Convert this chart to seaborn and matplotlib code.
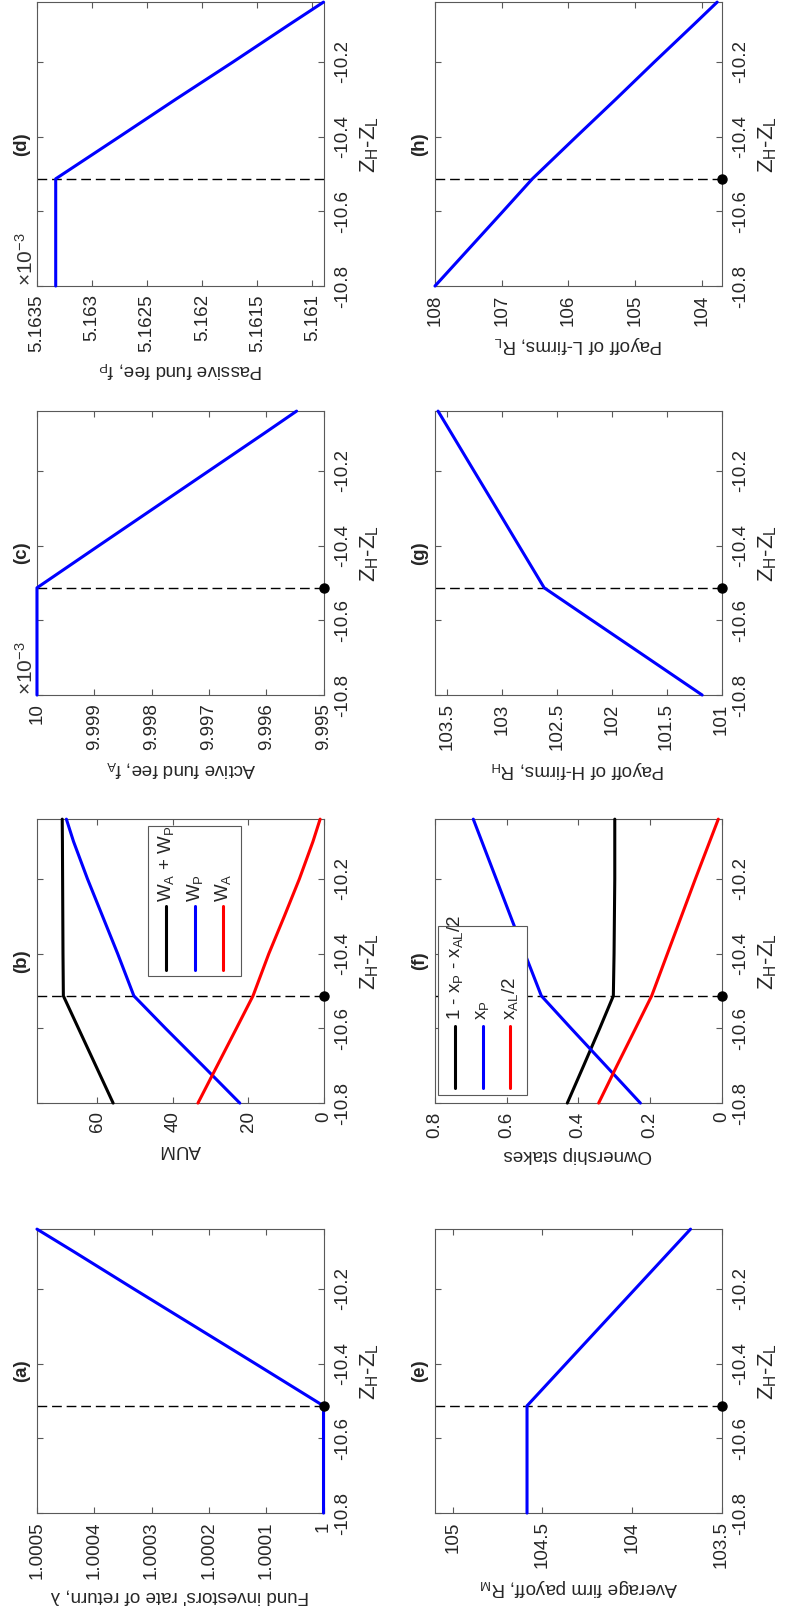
import matplotlib
matplotlib.use('Agg')
import matplotlib.pyplot as plt
import seaborn as sns
from matplotlib.patches import Rectangle

z_gap = [-10.8, -10.7, -10.6, -10.513, -10.4, -10.3, -10.2, -10.1, -10.04]
z_star = -10.513
z_ticks = [-10.8, -10.6, -10.4, -10.2]
z_ticklabels = ['-10.8', '-10.6', '-10.4', '-10.2']

# (a) fund investors' rate of return
lam = [1.0, 1.0, 1.0, 1.0, 1.000119, 1.000225, 1.000331, 1.000436, 1.0005]
# (b) assets under management
aum_total = [55.8, 60.4, 65.0, 69.0, 69.1, 69.15, 69.2, 69.25, 69.3]
aum_passive = [22.2, 32.0, 41.9, 50.3, 54.6, 58.6, 62.6, 66.3, 68.2]
aum_active = [33.3, 28.2, 23.1, 18.7, 14.5, 10.4, 6.4, 2.8, 0.9]
# (c) active fund fee, (d) passive fund fee
fee_active = [0.01, 0.01, 0.01, 0.01, 0.00999892, 0.00999796, 0.00999700, 0.00999604, 0.00999547]
fee_passive = [0.00516333, 0.00516333, 0.00516333, 0.00516333, 0.00516275,
               0.00516224, 0.00516172, 0.00516121, 0.00516090]
# (e) average firm payoff
payoff_avg = [104.586, 104.586, 104.586, 104.586, 104.368, 104.175, 103.982, 103.789, 103.673]
# (f) ownership stakes
stake_rest = [0.4305, 0.385, 0.340, 0.302, 0.300, 0.299, 0.298, 0.298, 0.298]
stake_passive = [0.2265, 0.323, 0.420, 0.503, 0.549, 0.589, 0.629, 0.669, 0.693]
stake_active = [0.343, 0.292, 0.240, 0.195, 0.151, 0.112, 0.073, 0.033, 0.009]
# (g) H-firms, (h) L-firms
payoff_h = [101.176, 101.677, 102.179, 102.615, 102.846, 103.050, 103.255, 103.459, 103.582]
payoff_l = [108.0, 107.49, 106.98, 106.54, 105.88, 105.29, 104.71, 104.12, 103.77]

sns.set_style("ticks")
plt.rcParams['font.family'] = ['Liberation Sans', 'DejaVu Sans']
plt.rcParams['mathtext.default'] = 'regular'
plt.rcParams['axes.unicode_minus'] = False

FS = 13.5
fig = plt.figure(figsize=(7.9, 16.16), dpi=100)

col_left = [0.0468, 0.5506]
row_bottom = [0.8230, 0.5699, 0.3174, 0.0637]
panel_w, panel_h = 0.3627, 0.1757


def draw_panel(ax, series, lims, ticks, ticklabels, label, tag, dot=True, scaled=False):
    ax.axhline(z_star, color='k', lw=1, dashes=(7, 3.5), zorder=2)
    for vals, color in series:
        sns.lineplot(x=vals, y=z_gap, sort=False, estimator=None, color=color,
                     lw=2.2, ax=ax, clip_on=False, zorder=3)
    if dot:
        ax.plot([1], [z_star], 'o', color='k', ms=6.5, clip_on=False, zorder=5,
                transform=ax.get_yaxis_transform())
    ax.set_xlim(lims[1], lims[0])
    ax.set_ylim(-10.8, -10.04)
    ax.set_xticks(ticks, ticklabels)
    ax.set_yticks(z_ticks, z_ticklabels)
    ax.tick_params(direction='in', length=4, width=0.8, color='0.35', labelsize=FS,
                   top=True, bottom=True, left=True, right=True,
                   labelleft=False, labelright=True)
    ax.tick_params(axis='x', labelrotation=90, pad=6)
    ax.tick_params(axis='y', labelrotation=90, pad=8)
    for lab in ax.get_yticklabels():
        lab.set_va('center')
    for sp in ax.spines.values():
        sp.set_color('0.35')
        sp.set_linewidth(0.8)
    ax.set_xlabel(label, rotation=180, fontsize=FS, labelpad=6)
    ax.yaxis.set_label_position('right')
    ax.set_ylabel(r'Z$_H$-Z$_L$', rotation=90, fontsize=16, labelpad=5)
    ax.text(-0.053, 0.5, tag, rotation=90, transform=ax.transAxes, ha='center',
            va='center', fontweight='bold', fontsize=FS)
    if scaled:
        ax.text(-0.04, 0.0, r'×10$^{-3}$', rotation=90, transform=ax.transAxes,
                ha='center', va='bottom', fontsize=15, color='0.2')


def draw_legend(ax, box, xs, y0, y1, ty, labels, colors):
    ax.add_patch(Rectangle((box[0], box[2]), box[1] - box[0], box[3] - box[2],
                           transform=ax.transAxes, facecolor='white',
                           edgecolor='0.35', lw=0.8, zorder=6))
    for x, lab, c in zip(xs, labels, colors):
        ax.plot([x, x], [y0, y1], color=c, lw=2.2, transform=ax.transAxes, zorder=7)
        ax.text(x, ty, lab, rotation=90, rotation_mode='anchor', ha='left',
                va='center', transform=ax.transAxes, fontsize=FS, zorder=8)


# left column: (d) top ... (a) bottom
ax_d = fig.add_axes([col_left[0], row_bottom[0], panel_w, panel_h])
ax_c = fig.add_axes([col_left[0], row_bottom[1], panel_w, panel_h])
ax_b = fig.add_axes([col_left[0], row_bottom[2], panel_w, panel_h])
ax_a = fig.add_axes([col_left[0], row_bottom[3], panel_w, panel_h])
# right column: (h) top ... (e) bottom
ax_hl = fig.add_axes([col_left[1], row_bottom[0], panel_w, panel_h])
ax_g = fig.add_axes([col_left[1], row_bottom[1], panel_w, panel_h])
ax_f = fig.add_axes([col_left[1], row_bottom[2], panel_w, panel_h])
ax_e = fig.add_axes([col_left[1], row_bottom[3], panel_w, panel_h])

draw_panel(ax_a, [(lam, 'blue')], (1.0, 1.0005),
           [1.0, 1.0001, 1.0002, 1.0003, 1.0004, 1.0005],
           ['1', '1.0001', '1.0002', '1.0003', '1.0004', '1.0005'],
           "Fund investors' rate of return, λ", '(a)')

draw_panel(ax_b, [(aum_total, 'black'), (aum_passive, 'blue'), (aum_active, 'red')],
           (0, 76), [0, 20, 40, 60], ['0', '20', '40', '60'], 'AUM', '(b)')
draw_legend(ax_b, (0.388, 0.713, 0.449, 0.975), [0.450, 0.552, 0.649], 0.468, 0.694, 0.707,
            [r'W$_A$ + W$_P$', r'W$_P$', r'W$_A$'], ['black', 'blue', 'red'])

draw_panel(ax_c, [(fee_active, 'blue')], (0.009995, 0.01),
           [0.009995, 0.009996, 0.009997, 0.009998, 0.009999, 0.01],
           ['9.995', '9.996', '9.997', '9.998', '9.999', '10'],
           r'Active fund fee, f$_A$', '(c)', scaled=True)

draw_panel(ax_d, [(fee_passive, 'blue')], (0.0051609, 0.0051635),
           [0.005161, 0.0051615, 0.005162, 0.0051625, 0.005163, 0.0051635],
           ['5.161', '5.1615', '5.162', '5.1625', '5.163', '5.1635'],
           r'Passive fund fee, f$_P$', '(d)', dot=False, scaled=True)

draw_panel(ax_e, [(payoff_avg, 'blue')], (103.5, 105.1),
           [103.5, 104, 104.5, 105], ['103.5', '104', '104.5', '105'],
           r'Average firm payoff, R$_M$', '(e)')

draw_panel(ax_f, [(stake_rest, 'black'), (stake_passive, 'blue'), (stake_active, 'red')],
           (0, 0.8), [0, 0.2, 0.4, 0.6, 0.8], ['0', '0.2', '0.4', '0.6', '0.8'],
           'Ownership stakes', '(f)')
draw_legend(ax_f, (0.0115, 0.3195, 0.0283, 0.625), [0.0697, 0.167, 0.261], 0.0516, 0.270, 0.293,
            [r'1 - x$_P$ - x$_{AL}$/2', r'x$_P$', r'x$_{AL}$/2'], ['black', 'blue', 'red'])

draw_panel(ax_g, [(payoff_h, 'blue')], (101, 103.61),
           [101, 101.5, 102, 102.5, 103, 103.5],
           ['101', '101.5', '102', '102.5', '103', '103.5'],
           r'Payoff of H-firms, R$_H$', '(g)')

draw_panel(ax_hl, [(payoff_l, 'blue')], (103.705, 108),
           [104, 105, 106, 107, 108], ['104', '105', '106', '107', '108'],
           r'Payoff of L-firms, R$_L$', '(h)')

fig.savefig('out.png', dpi=100, facecolor='white')
